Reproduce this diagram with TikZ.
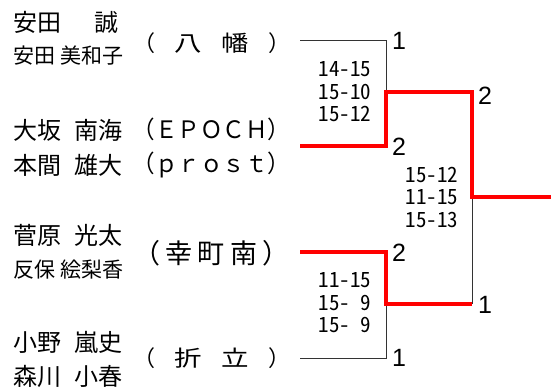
\documentclass[tikz,border=0pt]{standalone}
\usepackage{fontspec}
\usepackage{graphicx}
\newfontfamily\jpfont{Noto Sans CJK JP}
\newfontfamily\scorefont{Noto Sans CJK JP}[RawFeature=+hwid]
\newfontfamily\rankfont{Liberation Sans}
\newcommand\wide[1]{\scalebox{1.25}[1]{#1}}

\begin{document}
\begin{tikzpicture}[x=1pt,y=-1pt,
    player/.style={inner sep=0pt,font=\jpfont\fontsize{24}{26}\selectfont},
    club/.style={inner sep=0pt,font=\jpfont\fontsize{24}{26}\selectfont},
    score/.style={inner sep=0pt,align=center,font=\scorefont\fontsize{21}{22.5}\selectfont},
    rank/.style={inner sep=0pt,anchor=west,font=\rankfont\fontsize{25}{26}\selectfont},
    lose/.style={line width=0.8pt,black!80},
    win/.style={line width=4.5pt,red}]
    \useasboundingbox (0,0) rectangle (551,391);

    \node[player] (p1a) at (66,22) {\makebox[106pt][s]{安田\hfill 誠}};
    \node[player,font=\jpfont\fontsize{21}{23}\selectfont] (p1b) at (68.5,56) {\makebox[111pt][s]{安田\hfill 美和子}};
    \node[player] (p2a) at (68,130) {\makebox[110pt][s]{大坂\hfill 南海}};
    \node[player] (p2b) at (68,165) {\makebox[110pt][s]{本間\hfill 雄大}};
    \node[player] (p3a) at (68,235) {\makebox[110pt][s]{菅原\hfill 光太}};
    \node[player,font=\jpfont\fontsize{21}{23}\selectfont] (p3b) at (68.5,270) {\makebox[111pt][s]{反保\hfill 絵梨香}};
    \node[player] (p4a) at (68,342) {\makebox[110pt][s]{小野\hfill 嵐史}};
    \node[player] (p4b) at (68,376) {\makebox[110pt][s]{森川\hfill 小春}};

    \node[club,font=\jpfont\fontsize{22}{24}\selectfont] (c1) at (211.5,43) {\makebox[157pt][s]{（\hfill\wide{八}\hfill\wide{幡}\hfill）}};
    \node[club] (c2a) at (211.5,129) {\scalebox{0.94}[1]{（ＥＰＯＣＨ）}};
    \node[club] (c2b) at (211.5,165) {\scalebox{0.94}[1]{（ｐｒｏｓｔ）}};
    \node[club,font=\jpfont\fontsize{27}{29}\selectfont] (c3) at (211.5,253) {\makebox[157pt][s]{（\hfill 幸\hfill 町\hfill 南\hfill）}};
    \node[club,font=\jpfont\fontsize{22}{24}\selectfont] (c4) at (211.5,358) {\makebox[157pt][s]{（\hfill\wide{折}\hfill\wide{立}\hfill）}};

    \coordinate (e1) at (300,40);
    \coordinate (e2) at (300,146);
    \coordinate (e3) at (300,252);
    \coordinate (e4) at (300,358);
    \coordinate (m1) at (386,92);
    \coordinate (m2) at (386,304);
    \coordinate (f) at (472,197);
    \coordinate (g) at (472,304);
    \coordinate (fin) at (551,197);

    \draw[lose] (e1) -| (m1);
    \draw[lose] (e4) -| (m2);
    \draw[lose] (f) -- (g);
    \draw[win] (e2) -| (m1) -| (f) -- (fin);
    \draw[win] (e3) -| (m2) -- (g);

    \node[score] (s1) at (345,92) {14-15\\15-10\\15-12};
    \node[score] (s2) at (432,197) {15-12\\11-15\\15-13};
    \node[score] (s3) at (345,303) {11-15\\15-\phantom{0}9\\15-\phantom{0}9};

    \node[rank] (r1) at (392,41) {1};
    \node[rank] (r2) at (392,147) {2};
    \node[rank] (r3) at (392,253) {2};
    \node[rank] (r4) at (392,358) {1};
    \node[rank] (r5) at (478,96) {2};
    \node[rank] (r6) at (478,305) {1};
\end{tikzpicture}
\end{document}
